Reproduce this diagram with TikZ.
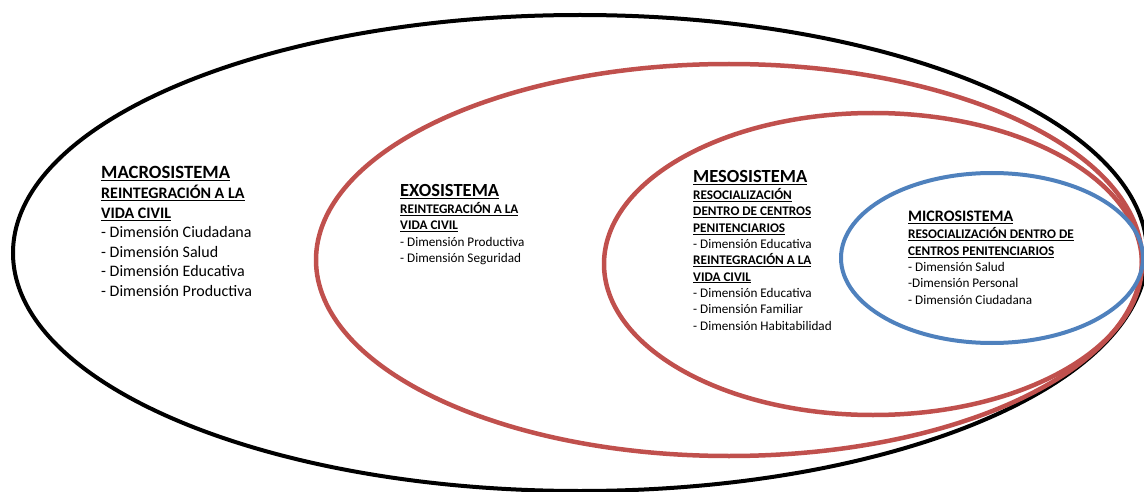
\documentclass[tikz,border=0pt]{standalone}
\usepackage{fontspec}
\setmainfont{Carlito}
\usetikzlibrary{positioning}

\definecolor{ringred}{HTML}{C0504D}
\definecolor{ringblue}{HTML}{4F81BD}

\newcommand{\sysname}[2]{{\fontsize{#1}{#1}\selectfont\bfseries\underline{#2}}}
\newcommand{\syssub}[1]{{\bfseries\underline{#1}}}

\tikzset{
    ring/.style={line width=4pt},
    systext/.style={anchor=north west, align=left, inner sep=0pt}
}

\begin{document}
\begin{tikzpicture}[x=1pt,y=-1pt]
    \useasboundingbox (0,0) rectangle (1144,492);

    % the four rings
    \draw[ring,black] (580,253) ellipse [x radius=567pt, y radius=238pt];
    \draw[ring,ringred,line width=4.5pt] (729,260) ellipse [x radius=413pt, y radius=196pt];
    \draw[ring,ringred,line width=4.5pt] (873,264) ellipse [x radius=269pt, y radius=151pt];
    \draw[ring,ringblue] (992,258) ellipse [x radius=151pt, y radius=85pt];

    \node[systext,font=\fontsize{16}{19.5}\selectfont] (macro) at (101,166) {%
        \sysname{18.7}{MACROSISTEMA}\\[1pt]
        \syssub{REINTEGRACIÓN A LA}\\
        \syssub{VIDA CIVIL}\\
        - Dimensión Ciudadana\\
        - Dimensión Salud\\
        - Dimensión Educativa\\
        - Dimensión Productiva};

    \node[systext,font=\fontsize{13.2}{16.3}\selectfont] (exo) at (400,184) {%
        \sysname{18.5}{EXOSISTEMA}\\[1pt]
        \syssub{REINTEGRACIÓN A LA}\\
        \syssub{VIDA CIVIL}\\
        - Dimensión Productiva\\
        - Dimensión Seguridad};

    \node[systext,font=\fontsize{13.2}{16.3}\selectfont] (meso) at (693,170) {%
        \sysname{18.5}{MESOSISTEMA}\\[1pt]
        \syssub{RESOCIALIZACIÓN}\\
        \syssub{DENTRO DE CENTROS}\\
        \syssub{PENITENCIARIOS}\\
        - Dimensión Educativa\\
        \syssub{REINTEGRACIÓN A LA}\\
        \syssub{VIDA CIVIL}\\
        - Dimensión Educativa\\
        - Dimensión Familiar\\
        - Dimensión Habitabilidad};

    \node[systext,font=\fontsize{13.2}{16.3}\selectfont] (micro) at (908,211) {%
        \sysname{16}{MICROSISTEMA}\\[1pt]
        \syssub{RESOCIALIZACIÓN DENTRO DE}\\
        \syssub{CENTROS PENITENCIARIOS}\\
        - Dimensión Salud\\
        -Dimensión Personal\\
        - Dimensión Ciudadana};
\end{tikzpicture}
\end{document}
